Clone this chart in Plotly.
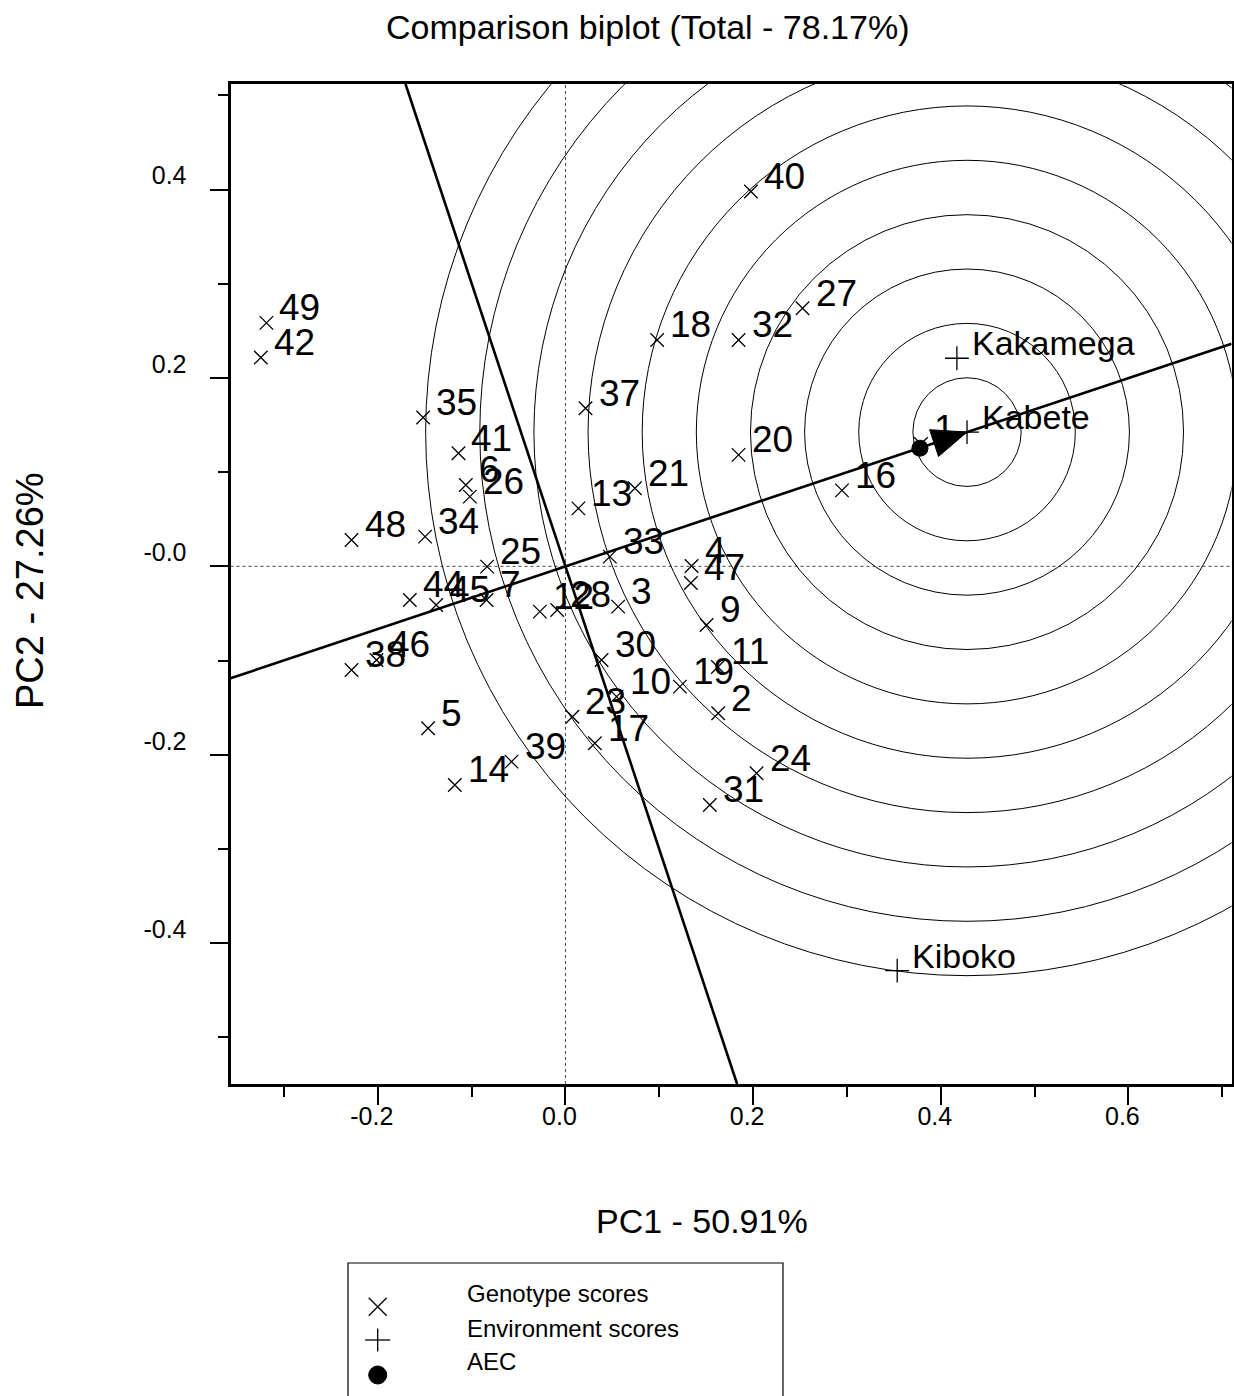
import numpy as np
import plotly.graph_objects as go

W, H = 1234, 1396

# ---------------- data ----------------
genotypes = ['1', '2', '3', '4', '5', '6', '7', '9', '10', '11', '12', '13', '14', '16',
             '17', '18', '19', '20', '21', '23', '24', '25', '26', '27', '28', '30', '31',
             '32', '33', '34', '35', '37', '38', '39', '40', '41', '42', '44', '45', '46',
             '47', '48', '49']
gen_pc1 = [0.3789, 0.1628, 0.0562, 0.1344, -0.1464, -0.1062, -0.0841, 0.1504, 0.0545,
           0.1625, -0.0273, 0.0138, -0.1179, 0.2947, 0.0313, 0.0977, 0.1220, 0.1845,
           0.0740, 0.0074, 0.2037, -0.0835, -0.1019, 0.2527, -0.0088, 0.0385, 0.1539,
           0.1845, 0.0473, -0.1496, -0.1517, 0.0214, -0.2280, -0.0575, 0.1977, -0.1140,
           -0.3247, -0.1659, -0.1378, -0.2014, 0.1337, -0.2280, -0.3187]
gen_pc2 = [0.1299, -0.1559, -0.0428, 0.0004, -0.1719, 0.0864, -0.0357, -0.0622, -0.1383,
           -0.1068, -0.0481, 0.0615, -0.2321, 0.0806, -0.1878, 0.2403, -0.1277, 0.1183,
           0.0829, -0.1596, -0.2196, -0.0003, 0.0740, 0.2740, -0.0463, -0.0994, -0.2533,
           0.2403, 0.0103, 0.0315, 0.1579, 0.1678, -0.1100, -0.2073, 0.3978, 0.1201,
           0.2216, -0.0357, -0.0410, -0.0994, -0.0176, 0.0280, 0.2584]

env_names = ['Kakamega', 'Kabete', 'Kiboko']
env_pc1 = [0.4172, 0.4280, 0.3536]
env_pc2 = [0.2209, 0.1425, -0.4292]

aec_point = [0.3778, 0.1254]      # AEC marker
ideal_point = [0.4280, 0.1425]    # arrow tip / centre of the concentric circles
ring_step = 0.0577
n_rings = 10

x_range = [-0.357, 0.710]
y_range = [-0.5495, 0.512]
x_major = [-0.2, 0.0, 0.2, 0.4, 0.6]
x_major_text = ['-0.2', '0.0', '0.2', '0.4', '0.6']
x_minor = [-0.3, -0.1, 0.1, 0.3, 0.5, 0.7]
y_major = [-0.4, -0.2, 0.0, 0.2, 0.4]
y_major_text = ['-0.4', '-0.2', '-0.0', '0.2', '0.4']
y_minor = [-0.5, -0.3, -0.1, 0.1, 0.3, 0.5]

title_text = 'Comparison biplot (Total - 78.17%)'
x_title = 'PC1 - 50.91%'
y_title = 'PC2 - 27.26%'
legend_labels = ['Genotype scores', 'Environment scores', 'AEC']

# ---------------- styling ----------------
SANS = 'Liberation Sans, Arial, sans-serif'

# plot area in window pixels
PL, PR, PT, PB = 230.5, 1231.6, 84.0, 1084.0


def px(xp):
    return xp / W


def py(yp):
    return 1 - yp / H


fig = go.Figure()

# AEC abscissa through origin and ideal point
m = ideal_point[1] / ideal_point[0]
ax_x = np.array(x_range)
fig.add_trace(go.Scatter(x=ax_x, y=m * ax_x, mode='lines',
                         line=dict(color='black', width=2.6), hoverinfo='skip', showlegend=False))
# AEC ordinate (perpendicular through origin)
ord_y = np.array(y_range)
fig.add_trace(go.Scatter(x=-m * ord_y, y=ord_y, mode='lines',
                         line=dict(color='black', width=2.6), hoverinfo='skip', showlegend=False))

# genotype markers
fig.add_trace(go.Scatter(x=gen_pc1, y=gen_pc2, mode='markers',
                         marker=dict(symbol='x-thin', size=13.5, color='black',
                                     line=dict(color='black', width=1.3)),
                         name='Genotype scores', showlegend=False))
# environment markers
fig.add_trace(go.Scatter(x=env_pc1, y=env_pc2, mode='markers',
                         marker=dict(symbol='cross-thin', size=17, color='black',
                                     line=dict(color='black', width=1.3)),
                         name='Environment scores', showlegend=False))
# AEC dot
fig.add_trace(go.Scatter(x=[aec_point[0]], y=[aec_point[1]], mode='markers',
                         marker=dict(symbol='circle', size=17, color='black'),
                         name='AEC', showlegend=False))
# arrow head at the ideal point
ux, uy = ideal_point[0], ideal_point[1]
norm = np.hypot(ux, uy)
ux, uy = ux / norm, uy / norm
L, hw = 0.037, 0.0150
bx, by = ideal_point[0] - L * ux, ideal_point[1] - L * uy
tri_x = [ideal_point[0], bx - hw * uy, bx + hw * uy, ideal_point[0]]
tri_y = [ideal_point[1], by + hw * ux, by - hw * ux, ideal_point[1]]
fig.add_trace(go.Scatter(x=tri_x, y=tri_y, mode='lines', fill='toself',
                         fillcolor='black', line=dict(color='black', width=1),
                         hoverinfo='skip', showlegend=False))

shapes = []
# concentric circles
for k in range(1, n_rings + 1):
    r = k * ring_step
    shapes.append(dict(type='circle', xref='x', yref='y', layer='below',
                       x0=ideal_point[0] - r, x1=ideal_point[0] + r,
                       y0=ideal_point[1] - r, y1=ideal_point[1] + r,
                       line=dict(color='black', width=1)))
# dotted zero lines
shapes.append(dict(type='line', xref='x', yref='y domain', x0=0, x1=0, y0=0, y1=1,
                   layer='below', line=dict(color='#444444', width=1, dash='dot')))
shapes.append(dict(type='line', xref='x domain', yref='y', x0=0, x1=1, y0=0, y1=0,
                   layer='below', line=dict(color='#444444', width=1, dash='dot')))

annotations = []
# point labels
for name, x, y in zip(genotypes, gen_pc1, gen_pc2):
    annotations.append(dict(x=x, y=y, xref='x', yref='y', text=name, showarrow=False,
                            xanchor='left', yanchor='middle', xshift=11, yshift=15,
                            font=dict(family=SANS, size=37, color='black')))
for name, x, y in zip(env_names, env_pc1, env_pc2):
    annotations.append(dict(x=x, y=y, xref='x', yref='y', text=name, showarrow=False,
                            xanchor='left', yanchor='middle', xshift=13, yshift=15,
                            font=dict(family=SANS, size=34, color='black')))

# titles
annotations.append(dict(x=px(648), y=py(27), xref='paper', yref='paper', text=title_text,
                        showarrow=False, xanchor='center', yanchor='middle',
                        font=dict(family=SANS, size=34, color='black')))
annotations.append(dict(x=px(702), y=py(1221), xref='paper', yref='paper', text=x_title,
                        showarrow=False, xanchor='center', yanchor='middle',
                        font=dict(family=SANS, size=34, color='black')))
annotations.append(dict(x=px(30), y=py(591), xref='paper', yref='paper', text=y_title,
                        showarrow=False, xanchor='center', yanchor='middle', textangle=-90,
                        font=dict(family=SANS, size=38, color='black')))

# legend (box, symbols, texts)
shapes.append(dict(type='rect', xref='paper', yref='paper', x0=px(348), x1=px(783),
                   y0=py(1420), y1=py(1263), line=dict(color='black', width=1.2),
                   fillcolor='rgba(0,0,0,0)'))
lx = 377.7
# x symbol
cy = 1306.7
shapes.append(dict(type='line', xref='paper', yref='paper', x0=px(lx - 9), x1=px(lx + 9),
                   y0=py(cy - 9), y1=py(cy + 9), line=dict(color='black', width=1.3)))
shapes.append(dict(type='line', xref='paper', yref='paper', x0=px(lx - 9), x1=px(lx + 9),
                   y0=py(cy + 9), y1=py(cy - 9), line=dict(color='black', width=1.3)))
# + symbol
cy = 1340
shapes.append(dict(type='line', xref='paper', yref='paper', x0=px(lx - 12.5), x1=px(lx + 12.5),
                   y0=py(cy), y1=py(cy), line=dict(color='black', width=1.3)))
shapes.append(dict(type='line', xref='paper', yref='paper', x0=px(lx), x1=px(lx),
                   y0=py(cy - 11.5), y1=py(cy + 11.5), line=dict(color='black', width=1.3)))
# dot symbol
cy = 1375
shapes.append(dict(type='circle', xref='paper', yref='paper', x0=px(lx - 9), x1=px(lx + 9),
                   y0=py(cy - 9), y1=py(cy + 9), fillcolor='black',
                   line=dict(color='black', width=1)))
for lab, ty in zip(legend_labels, [1293, 1328, 1361]):
    annotations.append(dict(x=px(465), y=py(ty), xref='paper', yref='paper', text=lab,
                            showarrow=False, xanchor='left', yanchor='middle',
                            font=dict(family=SANS, size=24, color='black')))

axis_common = dict(showgrid=False, zeroline=False, showline=True, linewidth=3,
                   linecolor='black', mirror=True, ticks='outside', tickwidth=2,
                   tickcolor='black', ticklen=18)

fig.update_layout(
    width=W, height=H,
    margin=dict(l=0, r=0, t=0, b=0),
    paper_bgcolor='white', plot_bgcolor='white',
    showlegend=False,
    xaxis=dict(range=x_range, domain=[px(PL), px(PR)], tickmode='array',
               tickvals=x_major, ticktext=x_major_text,
               tickfont=dict(family=SANS, size=25, color='black'),
               ticklabelstandoff=-10, ticklabelshift=-6,
               minor=dict(tickmode='array', tickvals=x_minor, ticks='outside', ticklen=10,
                          tickwidth=2, tickcolor='black', showgrid=False),
               **axis_common),
    yaxis=dict(range=y_range, domain=[py(PB), py(PT)], tickmode='array',
               tickvals=y_major, ticktext=y_major_text,
               tickfont=dict(family=SANS, size=25, color='black'),
               ticklabelstandoff=18, ticklabelshift=-14,
               minor=dict(tickmode='array', tickvals=y_minor, ticks='outside', ticklen=10,
                          tickwidth=2, tickcolor='black', showgrid=False),
               **axis_common),
    shapes=shapes,
    annotations=annotations,
)

# remove the page's default body margin so the figure fills the window exactly
fig.write_html('out.html',
               config={'displayModeBar': False},
               post_script="document.body.style.margin='0';"
                           "document.body.style.overflow='hidden';"
                           "document.documentElement.style.overflow='hidden';")
